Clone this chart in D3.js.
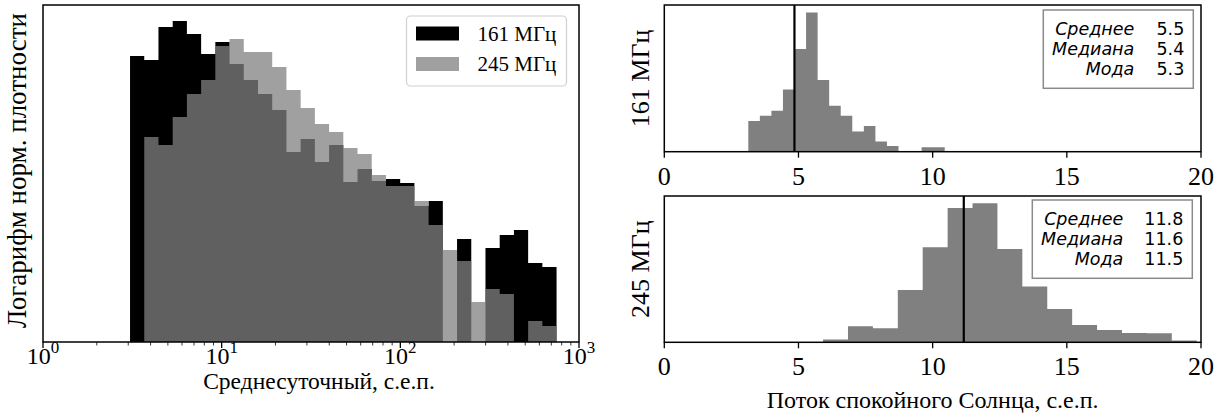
<!DOCTYPE html>
<html>
<head>
<meta charset="utf-8">
<script src="https://cdn.jsdelivr.net/npm/d3@7"></script>
<style>
  body { margin: 0; background: #fff; }
  svg { display: block; }
</style>
</head>
<body>
<svg id="chart" width="1223" height="416"></svg>
<script>
// left panel: log-binned histograms (arbitrary log-density units)
const leftBinLo = 3.07, leftBinHi = 749, leftBinCount = 30;
const dens161 = [286, 282, 315, 321, 308, 288, 300, 278, 262, 248, 232, 190, 203, 180, 197,
                 160, 173, 161, 163, 159, 136, 141, 0, 103, 0, 94, 107, 112, 79, 75];
const dens245 = [0, 205, 197, 225, 248, 262, 296, 303, 290, 290, 275, 252, 234, 218, 210,
                 194, 188, 167, 156, 156, 141, 117, 92, 81, 40, 53, 48, 0, 21, 16];
const seriesNames = ['161 МГц', '245 МГц'];
const leftTicks = [1, 10, 100, 1000];

// right panels: quiet sun flux histograms
const qs161Lo = 3.13, qs161Hi = 10.45;
const qs161 = [30.7, 36, 41, 62.3, 102.7, 139.3, 71.7, 46, 36, 20.3, 25.7, 10.3, 5.7, 0, 0, 4.5, 4.5];
const qs245Lo = 4.06, qs245Hi = 19.84;
const qs245 = [0.4, 0.4, 2.7, 16, 14, 52.3, 95, 134.3, 139, 93.3, 55.7, 33.3, 17.3, 12.3, 9.3, 9, 1.7];
const markLines = [4.85, 11.16];
const statNames = ['Среднее', 'Медиана', 'Мода'];
const stats161 = ['5.5', '5.4', '5.3'];
const stats245 = ['11.8', '11.6', '11.5'];
const rightTicks = [0, 5, 10, 15, 20];

const svg = d3.select('#chart');
const serif = 'Liberation Serif, Times New Roman, serif';

// step-filled histogram as one path (no seams between bins)
function histPath(g, vals, edgesArr, x, y, fill, opacity) {
  const pts = edgesArr.map((e, i) => [e, vals[Math.min(i, vals.length - 1)]]);
  const area = d3.area()
    .x(d => x(d[0]))
    .y0(y(0))
    .y1(d => y(d[1]))
    .curve(d3.curveStepAfter);
  g.append('path')
    .attr('d', area(pts))
    .attr('fill', fill)
    .attr('fill-opacity', opacity);
}

// ---------- left panel ----------
const L = {left: 43, right: 579, top: 5, bottom: 342};
const xL = d3.scaleLog().domain([1, 1000]).range([L.left, L.right]);
const yL = d3.scaleLinear().domain([0, 337]).range([L.bottom, L.top]);

const lgLo = Math.log10(leftBinLo), lgHi = Math.log10(leftBinHi);
const edges = d3.range(leftBinCount + 1).map(i => Math.pow(10, lgLo + (lgHi - lgLo) * i / leftBinCount));

const gL = svg.append('g');
histPath(gL, dens161, edges, xL, yL, '#000', 1);
histPath(gL, dens245, edges, xL, yL, '#808080', 0.75);

// x axis with minor ticks
const minor = [];
for (let p = 0; p < 3; p++) for (let m = 2; m <= 9; m++) minor.push(m * Math.pow(10, p));
gL.selectAll(null).data(minor).enter().append('line')
  .attr('x1', d => xL(d)).attr('x2', d => xL(d))
  .attr('y1', L.bottom).attr('y2', L.bottom + 3.5)
  .attr('stroke', '#000').attr('stroke-width', 0.8);
gL.selectAll(null).data(leftTicks).enter().append('line')
  .attr('x1', d => xL(d)).attr('x2', d => xL(d))
  .attr('y1', L.bottom).attr('y2', L.bottom + 6)
  .attr('stroke', '#000').attr('stroke-width', 1.3);

const tl = gL.selectAll(null).data(leftTicks).enter().append('text')
  .attr('x', d => xL(d)).attr('y', 364)
  .attr('text-anchor', 'middle')
  .attr('font-family', serif).attr('font-size', 24);
tl.append('tspan').text('10');
tl.append('tspan').attr('dy', -11).attr('font-size', 17).text(d => Math.round(Math.log10(d)));

gL.append('rect')
  .attr('x', L.left).attr('y', L.top)
  .attr('width', L.right - L.left).attr('height', L.bottom - L.top)
  .attr('fill', 'none').attr('stroke', '#000').attr('stroke-width', 1.5);

gL.append('text')
  .attr('x', (L.left + L.right) / 2 + 8).attr('y', 389)
  .attr('text-anchor', 'middle')
  .attr('font-family', serif).attr('font-size', 23.5)
  .text('Среднесуточный, с.е.п.');

gL.append('text')
  .attr('transform', `translate(26, ${(L.top + L.bottom) / 2 - 3}) rotate(-90)`)
  .attr('text-anchor', 'middle')
  .attr('font-family', serif).attr('font-size', 27)
  .text('Логарифм норм. плотности');

// legend
const lg = gL.append('g');
lg.append('rect')
  .attr('x', 406.5).attr('y', 16).attr('width', 160).attr('height', 70)
  .attr('rx', 4).attr('fill', '#fff').attr('fill-opacity', 0.8)
  .attr('stroke', '#d0d0d0').attr('stroke-width', 1.2);
const legItems = lg.selectAll(null).data(seriesNames).enter().append('g')
  .attr('transform', (d, i) => `translate(0, ${i * 30.5})`);
legItems.append('rect')
  .attr('x', 416).attr('y', 26.5).attr('width', 43).attr('height', 14)
  .attr('fill', (d, i) => i === 0 ? '#000' : '#808080')
  .attr('fill-opacity', (d, i) => i === 0 ? 1 : 0.75);
legItems.append('text')
  .attr('x', 477.5).attr('y', 40.5)
  .attr('font-family', serif).attr('font-size', 21)
  .text(d => d);

// ---------- right panels ----------
const R = {left: 664.3, right: 1201};
const xR = d3.scaleLinear().domain([0, 20]).range([R.left, R.right]);

const panels = [
  {top: 5, bottom: 151.7, lo: qs161Lo, hi: qs161Hi, vals: qs161, line: markLines[0],
   label: seriesNames[0], stats: stats161,
   box: {x: 1043.3, y: 10, w: 150, h: 78.3}, textX: 1134.3, valX: 1184.3, base: 34.5},
  {top: 196, bottom: 342.3, lo: qs245Lo, hi: qs245Hi, vals: qs245, line: markLines[1],
   label: seriesNames[1], stats: stats245,
   box: {x: 1032.3, y: 200, w: 160, h: 78.3}, textX: 1123.3, valX: 1183.3, base: 224.5}
];

panels.forEach(p => {
  const g = svg.append('g');
  const y = d3.scaleLinear().domain([0, p.bottom - p.top]).range([p.bottom, p.top]);
  const n = p.vals.length;
  const e = d3.range(n + 1).map(i => p.lo + (p.hi - p.lo) * i / n);
  histPath(g, p.vals, e, xR, y, '#808080', 1);

  g.append('line')
    .attr('x1', xR(p.line)).attr('x2', xR(p.line))
    .attr('y1', p.top).attr('y2', p.bottom)
    .attr('stroke', '#000').attr('stroke-width', 2.2);

  g.selectAll(null).data(rightTicks).enter().append('line')
    .attr('x1', d => xR(d)).attr('x2', d => xR(d))
    .attr('y1', p.bottom).attr('y2', p.bottom + 6)
    .attr('stroke', '#000').attr('stroke-width', 1.3);
  g.selectAll(null).data(rightTicks).enter().append('text')
    .attr('x', d => xR(d)).attr('y', p.bottom + 33)
    .attr('text-anchor', 'middle')
    .attr('font-family', serif).attr('font-size', 26)
    .text(d => d);

  g.append('rect')
    .attr('x', R.left).attr('y', p.top)
    .attr('width', R.right - R.left).attr('height', p.bottom - p.top)
    .attr('fill', 'none').attr('stroke', '#000').attr('stroke-width', 1.5);

  g.append('text')
    .attr('transform', `translate(649, ${(p.top + p.bottom) / 2}) rotate(-90)`)
    .attr('text-anchor', 'middle')
    .attr('font-family', serif).attr('font-size', 26)
    .text(p.label);

  g.append('rect')
    .attr('x', p.box.x).attr('y', p.box.y).attr('width', p.box.w).attr('height', p.box.h)
    .attr('fill', '#fff').attr('stroke', '#8a8a8a').attr('stroke-width', 1.5);
  statNames.forEach((s, i) => {
    g.append('text')
      .attr('x', p.textX).attr('y', p.base + i * 20)
      .attr('text-anchor', 'end')
      .attr('font-family', 'DejaVu Sans, sans-serif').attr('font-style', 'italic')
      .attr('font-size', 17.5)
      .text(s);
    g.append('text')
      .attr('x', p.valX).attr('y', p.base + i * 20)
      .attr('text-anchor', 'end')
      .attr('font-family', 'DejaVu Sans, sans-serif')
      .attr('font-size', 17.5)
      .text(p.stats[i]);
  });
});

svg.append('text')
  .attr('x', (R.left + R.right) / 2).attr('y', 408)
  .attr('text-anchor', 'middle')
  .attr('font-family', serif).attr('font-size', 24)
  .text('Поток спокойного Солнца, с.е.п.');
</script>
</body>
</html>
